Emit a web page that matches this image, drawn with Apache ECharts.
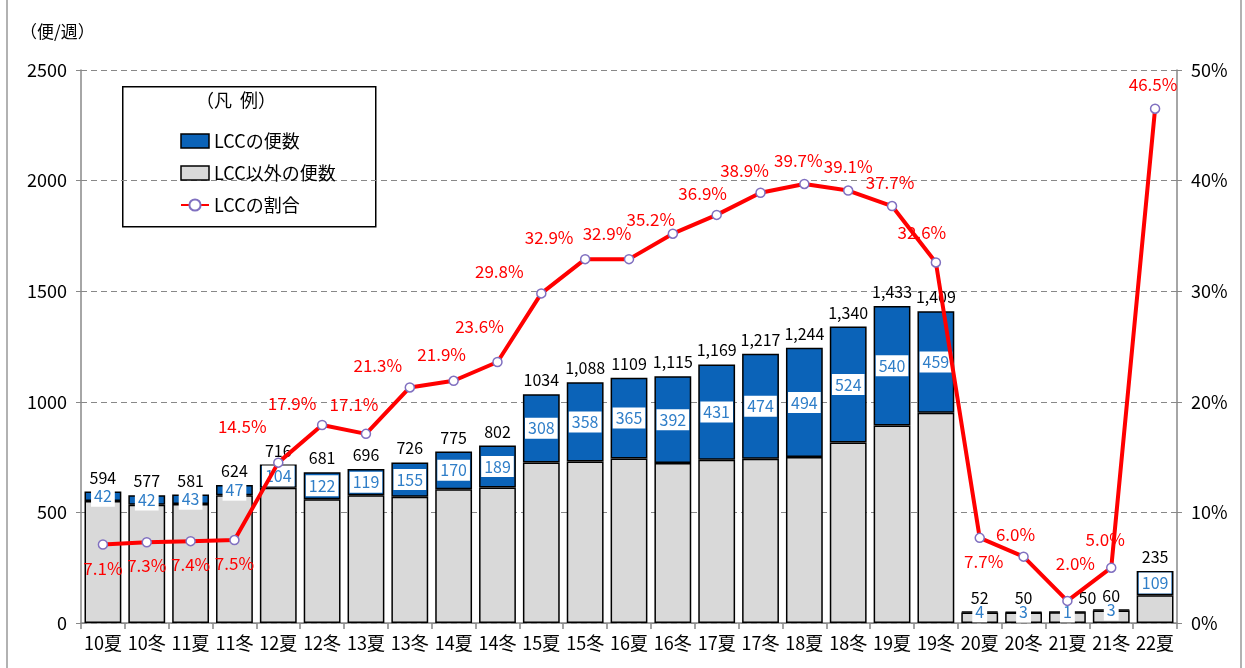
<!DOCTYPE html>
<html>
<head>
<meta charset="utf-8">
<script src="https://cdn.jsdelivr.net/npm/echarts@6/dist/echarts.min.js"></script>
<style>
  html, body { margin: 0; padding: 0; background: #fff; }
  #main { width: 1245px; height: 668px; }
</style>
</head>
<body>
<div id="main"></div>
<script>
var seasons = ['10夏','10冬','11夏','11冬','12夏','12冬','13夏','13冬','14夏','14冬',
  '15夏','15冬','16夏','16冬','17夏','17冬','18夏','18冬','19夏','19冬',
  '20夏','20冬','21夏','21冬','22夏'];
var totalFlights = [594,577,581,624,716,681,696,726,775,802,
  1034,1088,1109,1115,1169,1217,1244,1340,1433,1409,
  52,50,50,60,235];
var totalLabels = ['594','577','581','624','716','681','696','726','775','802',
  '1034','1,088','1109','1,115','1,169','1,217','1,244','1,340','1,433','1,409',
  '52','50','50','60','235'];
var lccFlights = [42,42,43,47,104,122,119,155,170,189,
  308,358,365,392,431,474,494,524,540,459,
  4,3,1,3,109];
var lccShare = [7.1,7.3,7.4,7.5,14.5,17.9,17.1,21.3,21.9,23.6,
  29.8,32.9,32.9,35.2,36.9,38.9,39.7,39.1,37.7,32.6,
  7.7,6.0,2.0,5.0,46.5];

var otherFlights = totalFlights.map(function (t, i) { return t - lccFlights[i]; });

var FONT = "'Noto Sans CJK JP', sans-serif";

// label placement for the share line (bottom for the low points, mostly top-left otherwise)
var shareLabelPos = {
  0: {position: 'bottom', offset: [0, 2]},
  1: {position: 'bottom', offset: [0, 2]},
  2: {position: 'bottom', offset: [0, 2]},
  3: {position: 'bottom', offset: [0, 2]},
  4: {position: 'top', offset: [-36, -14]},
  5: {position: 'top', offset: [-30, 0]},
  6: {position: 'top', offset: [-12, -8]},
  7: {position: 'top', offset: [-32, 0]},
  8: {position: 'top', offset: [-12, -4]},
  9: {position: 'top', offset: [-18, -14]},
  10: {position: 'top', offset: [-42, 0]},
  11: {position: 'top', offset: [-36, 0]},
  12: {position: 'top', offset: [-22, -4]},
  13: {position: 'top', offset: [-22, 8]},
  14: {position: 'top', offset: [-14, 0]},
  15: {position: 'top', offset: [-16, 0]},
  16: {position: 'top', offset: [-6, -2]},
  17: {position: 'top', offset: [0, -2]},
  18: {position: 'top', offset: [-2, -2]},
  19: {position: 'top', offset: [-14, -8]},
  20: {position: 'bottom', offset: [4, 2]},
  21: {position: 'top', offset: [-8, 0]},
  22: {position: 'top', offset: [8, -16]},
  23: {position: 'top', offset: [-6, -6]},
  24: {position: 'top', offset: [-2, -2]}
};

var shareData = lccShare.map(function (v, i) {
  var p = shareLabelPos[i];
  return {value: v, label: {position: p.position, offset: p.offset}};
});

// the 21夏 total sits under the line marker, so it is nudged right
var totalData = totalFlights.map(function (v, i) {
  if (i === 22) return {value: v, label: {offset: [20, 0]}};
  return v;
});

var chart = echarts.init(document.getElementById('main'));
var option = {
  animation: false,
  textStyle: {fontFamily: FONT},
  grid: {left: 81, right: 68, top: 70, bottom: 45},
  legend: {
    orient: 'vertical',
    left: 175,
    top: 127,
    itemGap: 14,
    itemWidth: 28,
    itemHeight: 14,
    textStyle: {fontFamily: FONT, fontSize: 18, color: '#000'},
    data: [
      {name: 'LCCの便数', icon: 'rect', itemStyle: {borderColor: '#000', borderWidth: 1.5}},
      {name: 'LCC以外の便数', icon: 'rect', itemStyle: {borderColor: '#000', borderWidth: 1.5}},
      {name: 'LCCの割合'}
    ]
  },
  graphic: [
    {type: 'rect', left: 122, top: 86, shape: {width: 253, height: 140},
      style: {fill: '#fff', stroke: '#000', lineWidth: 1.5}, z: 0},
    {type: 'text', left: 196, top: 91,
      style: {text: '（凡  例）', fontFamily: FONT, fontSize: 18, fill: '#000'}},
    {type: 'text', left: 20, top: 23,
      style: {text: '（便/週）', fontFamily: FONT, fontSize: 17, fill: '#000'}},
    {type: 'line', shape: {x1: 7, y1: 0, x2: 7, y2: 668}, style: {stroke: '#999', lineWidth: 1.5}},
    {type: 'line', shape: {x1: 1241, y1: 0, x2: 1241, y2: 668}, style: {stroke: '#999', lineWidth: 1.5}}
  ],
  xAxis: {
    type: 'category',
    data: seasons,
    axisLine: {lineStyle: {color: '#888', width: 1.5}},
    axisTick: {show: true, alignWithLabel: false, length: 6, lineStyle: {color: '#888', width: 1.5}},
    axisLabel: {color: '#000', fontSize: 18, margin: 11, interval: 0}
  },
  yAxis: [
    {
      type: 'value', min: 0, max: 2500, interval: 500,
      axisLine: {show: true, lineStyle: {color: '#888', width: 1.5}},
      axisTick: {show: true, length: 5, lineStyle: {color: '#888'}},
      axisLabel: {color: '#000', fontSize: 18, margin: 14,
        formatter: function (v) { return String(v); }},
      splitLine: {lineStyle: {color: '#888', type: [6, 4], width: 1.2}}
    },
    {
      type: 'value', min: 0, max: 50, interval: 10,
      axisLine: {show: true, lineStyle: {color: '#888', width: 1.5}},
      axisTick: {show: true, length: 5, lineStyle: {color: '#888'}},
      axisLabel: {color: '#000', fontSize: 18, margin: 14, formatter: '{value}%'},
      splitLine: {show: false}
    }
  ],
  series: [
    {
      name: 'LCC以外の便数',
      type: 'bar',
      stack: 'flights',
      barWidth: '84%',
      data: otherFlights,
      itemStyle: {color: '#d9d9d9', borderColor: '#000', borderWidth: 1.5}
    },
    {
      name: 'LCCの便数',
      type: 'bar',
      stack: 'flights',
      data: lccFlights,
      itemStyle: {color: '#0b63b8', borderColor: '#000', borderWidth: 1.5},
      label: {
        show: true, position: 'inside',
        color: '#2f7ec8', fontSize: 16,
        backgroundColor: '#fff', padding: [3, 3, 2, 3]
      }
    },
    {
      name: 'total',
      type: 'bar',
      barGap: '-100%',
      barWidth: '84%',
      data: totalData,
      silent: true,
      itemStyle: {color: 'rgba(0,0,0,0)'},
      label: {
        show: true, position: 'top', distance: 6,
        color: '#000', fontSize: 16,
        formatter: function (p) { return totalLabels[p.dataIndex]; }
      }
    },
    {
      name: 'LCCの割合',
      type: 'line',
      yAxisIndex: 1,
      data: shareData,
      z: 5,
      symbol: 'circle',
      symbolSize: 9,
      lineStyle: {color: '#ff0000', width: 4},
      itemStyle: {color: '#fff', borderColor: '#8070c0', borderWidth: 1.5},
      label: {
        show: true, color: '#ff0000', fontSize: 17, distance: 8,
        formatter: function (p) { return p.value.toFixed(1) + '%'; }
      }
    }
  ]
};
chart.setOption(option);
</script>
</body>
</html>
